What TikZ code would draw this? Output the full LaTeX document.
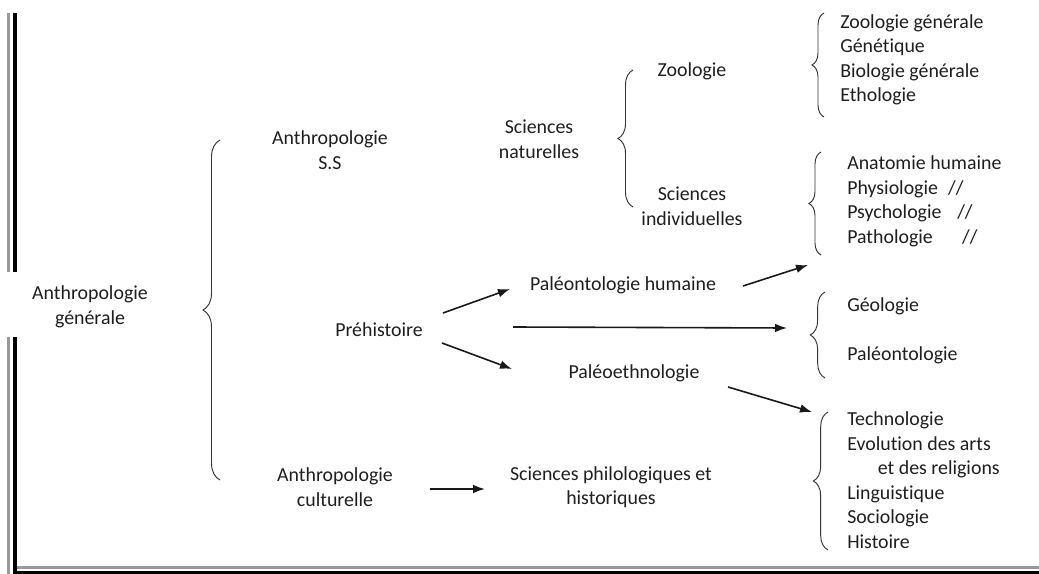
\documentclass[tikz,border=0pt]{standalone}
\usepackage{fontspec}
\setmainfont{Carlito}[Ligatures={NoCommon}]
\usetikzlibrary{decorations.pathreplacing,arrows.meta}
\tikzset{
lbl/.style={align=center,inner sep=1pt,text=black!88},
grp/.style={align=left,anchor=west,inner sep=0pt,text=black!88},
brc/.style={decorate,decoration={brace,amplitude=#1},draw=black!80,line width=0.7pt},
brc/.default=9pt,
flow/.style={-{Latex[length=9pt,width=6.5pt]},line width=1.2pt,black!90},
barline/.style={line width=3pt,black},
greyline/.style={line width=2.2pt,black!40}
}
\begin{document}
\begin{tikzpicture}[x=0.75pt,y=-0.75pt,every node/.style={font=\fontsize{14.9}{18.4}\selectfont}]
\useasboundingbox (0,0) rectangle (1039,574);
% frame
\draw[greyline] (8.5,13) -- (8.5,272) (8.5,337) -- (8.5,574);
\draw[greyline] (17,567.5) -- (1039,567.5);
\draw[barline] (14.5,13) -- (14.5,272) (14.5,337) -- (14.5,572.5) -- (1039,572.5);
% labels
\node[lbl] (gen) at (90,307) {Anthropologie\\générale};
\node[lbl] (ss) at (330,150) {Anthropologie\\S.S};
\node[lbl] (pre) at (379,330) {Préhistoire};
\node[lbl] (cult) at (335,487) {Anthropologie\\culturelle};
\node[lbl] (nat) at (539,139) {Sciences\\naturelles};
\node[lbl] (zoo) at (692,71) {Zoologie};
\node[lbl] (ind) at (692,206) {Sciences\\individuelles};
\node[lbl] (paleoh) at (623,285) {Paléontologie humaine};
\node[lbl] (paleoe) at (634,373) {Paléoethnologie};
\node[lbl] (philo) at (611,487) {Sciences philologiques et\\historiques};
\node[grp] (zgrp) at (840,60) {Zoologie générale\\Génétique\\Biologie générale\\Ethologie};
\node[grp] (igrp) at (847,201.5) {Anatomie humaine\\\makebox[75.75pt][l]{Physiologie}//\\\makebox[82.5pt][l]{Psychologie}//\\\makebox[86.25pt][l]{Pathologie}//};
\node[grp] (ggrp) at (847,330.5) {Géologie\\[18.4pt]Paléontologie};
\node[grp] (cgrp) at (847,480) {Technologie\\Evolution des arts\\\hspace*{23pt}et des religions\\Linguistique\\Sociologie\\Histoire};
% braces
\draw[brc=12.75pt] (220,480) -- (220,140);
\draw[brc=11.25pt] (633,207) -- (633,70);
\draw[brc] (824,117) -- (824,13);
\draw[brc] (821,255) -- (821,152);
\draw[brc=11pt] (825,378) -- (825,292);
\draw[brc=11pt] (828,550) -- (828,412);
% arrows
\coordinate (toI) at (808,265);
\coordinate (toG) at (787,328);
\coordinate (toC) at (812,412);
\draw[flow] ([shift={(64,-17)}]pre.center) -- ([shift={(-113,4)}]paleoh.center);
\draw[flow] ([shift={(134,-3)}]pre.center) -- (toG);
\draw[flow] ([shift={(63,13)}]pre.center) -- ([shift={(-122,-4)}]paleoe.center);
\draw[flow] ([shift={(120,1)}]paleoh.center) -- (toI);
\draw[flow] ([shift={(94,14)}]paleoe.center) -- (toC);
\draw[flow] ([shift={(95,2)}]cult.center) -- ([shift={(-126,2)}]philo.center);
\end{tikzpicture}
\end{document}
